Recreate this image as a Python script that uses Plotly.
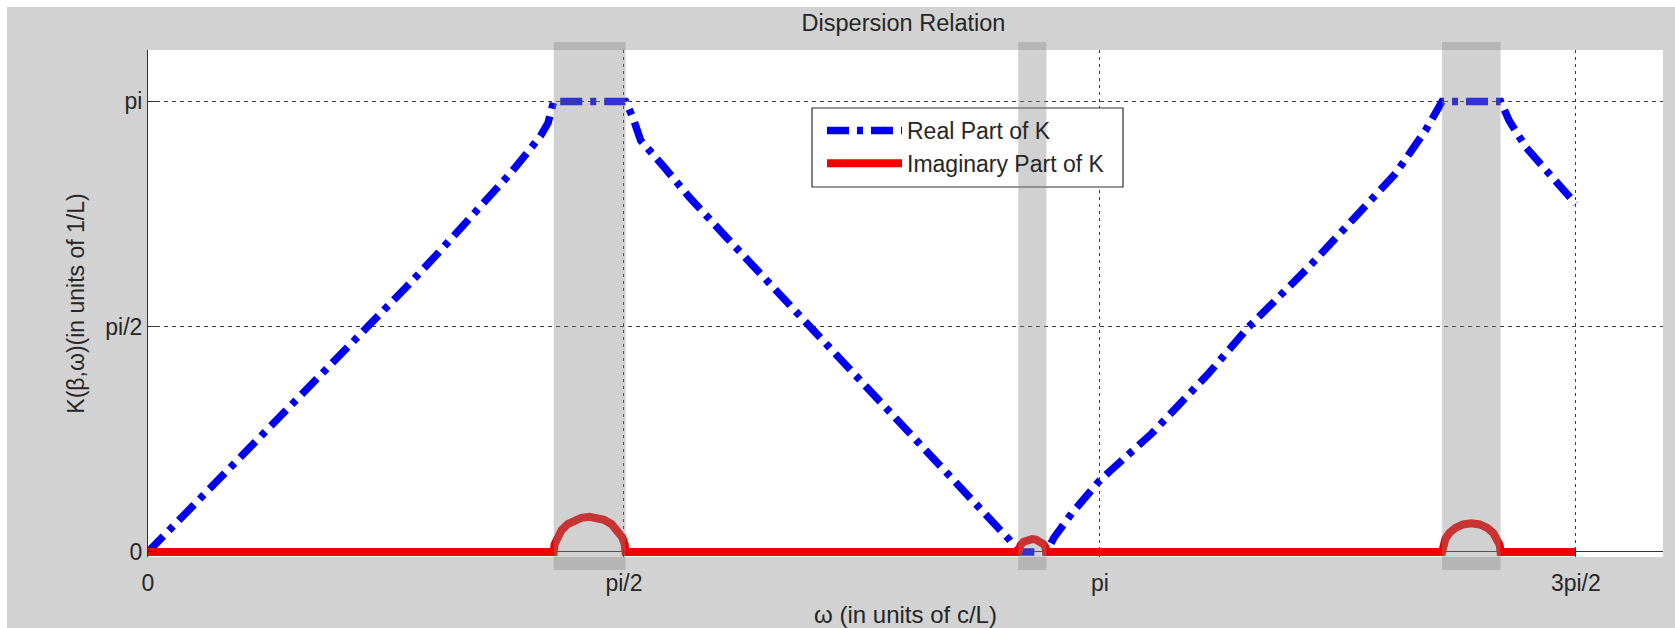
import plotly.graph_objects as go

PI = 3.14159

# ---- data (omega in units of c/L, K in units of 1/L) ----
omega_real = [0, 0.10, 0.20, 0.30, 0.40, 0.50, 0.60, 0.722, 0.854, 0.96, 1.075, 1.14,
              1.196, 1.25, 1.295, 1.32, 1.33, 1.339, 1.40, 1.46, 1.52, 1.576, 1.60, 1.626,
              1.703, 1.786, 1.913, 2.045, 2.188, 2.320, 2.442, 2.574, 2.706, 2.806,
              2.845, 2.872, 2.92, 2.965, 2.99, 3.048, 3.1416, 3.312, 3.500, 3.632,
              3.831, 3.996, 4.117, 4.216, 4.25, 4.271, 4.33, 4.40, 4.464, 4.492,
              4.547, 4.624, 4.712]
k_real = [0, 0.215, 0.43, 0.65, 0.865, 1.085, 1.305, 1.571, 1.85, 2.09, 2.36, 2.50,
          2.64, 2.78, 2.90, 2.99, 3.05, 3.1416, 3.1416, 3.1416, 3.1416, 3.1416, 3.03, 2.87,
          2.684, 2.475, 2.185, 1.885, 1.568, 1.270, 0.995, 0.697, 0.400, 0.174,
          0.08, 0, 0, 0, 0.10, 0.268, 0.50, 0.825, 1.244, 1.568,
          1.987, 2.359, 2.638, 2.939, 3.05, 3.1416, 3.1416, 3.1416, 3.1416, 3.009,
          2.823, 2.638, 2.428]

omega_imag = [0, 1.339, 1.342, 1.35, 1.365, 1.385, 1.41, 1.43, 1.457, 1.485, 1.505,
              1.53, 1.55, 1.565, 1.573, 1.576,
              2.872, 2.874, 2.88, 2.89, 2.905, 2.918, 2.93, 2.945, 2.955, 2.962, 2.965,
              4.271, 4.274, 4.282, 4.295, 4.315, 4.34, 4.368, 4.395, 4.42, 4.44, 4.453,
              4.461, 4.464, 4.712]
k_imag = [0, 0, 0.054, 0.103, 0.153, 0.194, 0.224, 0.238, 0.245, 0.238, 0.224,
          0.194, 0.153, 0.103, 0.054, 0,
          0, 0.026, 0.050, 0.071, 0.086, 0.090, 0.087, 0.074, 0.056, 0.032, 0,
          0, 0.049, 0.093, 0.132, 0.168, 0.192, 0.200, 0.192, 0.168, 0.132, 0.093,
          0.049, 0, 0]

# band gaps (shaded regions)
gap_start = [1.339, 2.872, 4.271]
gap_end = [1.576, 2.965, 4.464]

x_tickvals = [0, PI / 2, PI, 3 * PI / 2]
x_ticktext = ["0", "pi/2", "pi", "3pi/2"]
y_tickvals = [0, PI / 2, PI]
y_ticktext = ["0", "pi/2", "pi"]

# ---- layout geometry (pixels) ----
W, H = 1675, 628
L, R, T, B = 148, 12, 50, 71
PW, PH = W - L - R, H - T - B


def px_x(X):
    return (X - L) / PW


def px_y(Y):
    return (H - B - Y) / PH


FONT = "Arial, 'Liberation Sans', sans-serif"
TXT = "#262626"
GRID = "#3a3a3a"

fig = go.Figure()
fig.add_trace(go.Scatter(
    x=omega_real, y=k_real, mode="lines", name="Real Part of K",
    line=dict(color="#0000f0", width=7.5, dash="22px,8px,6px,8px")))
fig.add_trace(go.Scatter(
    x=omega_imag, y=k_imag, mode="lines", name="Imaginary Part of K",
    line=dict(color="#f00000", width=8)))

shapes = []
# white strips on top and left edge of the picture
shapes.append(dict(type="rect", xref="paper", yref="paper", layer="below",
                   x0=px_x(-20), x1=px_x(W + 20), y0=px_y(7), y1=px_y(-20),
                   fillcolor="white", line=dict(width=0)))
shapes.append(dict(type="rect", xref="paper", yref="paper", layer="below",
                   x0=px_x(-20), x1=px_x(7), y0=px_y(H + 20), y1=px_y(-20),
                   fillcolor="white", line=dict(width=0)))
# legend backing box
shapes.append(dict(type="rect", xref="paper", yref="paper", layer="above",
                   x0=px_x(812), x1=px_x(1123), y0=px_y(187), y1=px_y(108),
                   fillcolor="white", line=dict(color="#303030", width=1.2)))
# shaded band gaps (semi-transparent, on top)
for a, b in zip(gap_start, gap_end):
    shapes.append(dict(type="rect", xref="x", yref="paper", layer="above",
                       x0=a, x1=b, y0=px_y(570), y1=px_y(42),
                       fillcolor="rgba(135,135,135,0.38)", line=dict(width=0)))

fig.update_layout(
    width=W, height=H,
    margin=dict(l=L, r=R, t=T, b=B, autoexpand=False),
    paper_bgcolor="#d2d2d2", plot_bgcolor="white",
    font=dict(family=FONT, size=23, color=TXT),
    title=dict(text="Dispersion Relation", x=px_x(903.5), xref="paper", xanchor="center",
               y=1 - 23 / H, yref="container", yanchor="middle",
               font=dict(family=FONT, size=23.5, color=TXT)),
    xaxis=dict(range=[0, 5], tickmode="array", tickvals=x_tickvals, ticktext=x_ticktext,
               ticks="inside", ticklen=8, tickcolor="#333", tickwidth=1,
               ticklabelstandoff=10, tickfont=dict(size=23),
               showgrid=True, gridcolor=GRID, griddash="3px,4px", gridwidth=1,
               zeroline=False, showline=False,
               title=dict(text="ω (in units of c/L)", standoff=12,
                          font=dict(size=24))),
    yaxis=dict(range=[-0.035, 3.5], tickmode="array", tickvals=y_tickvals, ticktext=y_ticktext,
               ticks="inside", ticklen=8, tickcolor="#333", tickwidth=1,
               tickfont=dict(size=23),
               showgrid=True, gridcolor=GRID, griddash="4px,4px", gridwidth=1,
               zeroline=True, zerolinecolor="#333", zerolinewidth=1,
               showline=True, linecolor="#333", linewidth=1,
               title=dict(text="K(β,ω)(in units of 1/L)", standoff=14,
                          font=dict(size=23))),
    legend=dict(x=px_x(822), y=px_y(109), xanchor="left", yanchor="top",
                bgcolor="rgba(0,0,0,0)", borderwidth=0, itemwidth=75,
                font=dict(family=FONT, size=23, color=TXT)),
    shapes=shapes,
)

fig.write_html("out.html")
